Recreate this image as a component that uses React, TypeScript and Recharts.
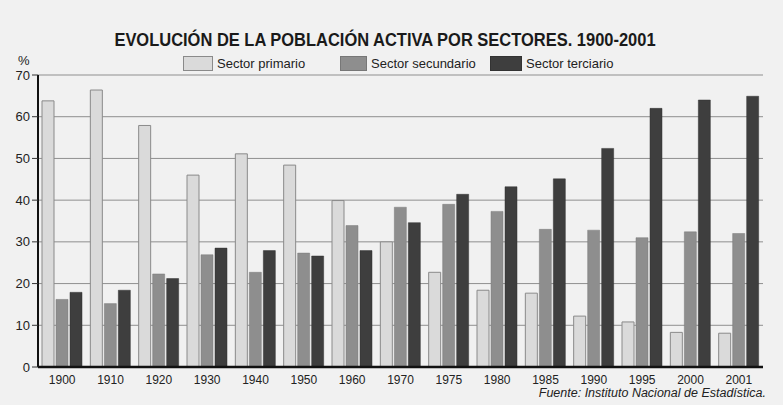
import React from "react";
import { BarChart, Bar, XAxis, YAxis, CartesianGrid } from "recharts";

const years = ["1900", "1910", "1920", "1930", "1940", "1950", "1960", "1970", "1975", "1980", "1985", "1990", "1995", "2000", "2001"];
const primario = [63.8, 66.4, 57.9, 46.0, 51.1, 48.4, 39.9, 30.0, 22.7, 18.4, 17.7, 12.2, 10.8, 8.3, 8.1];
const secundario = [16.2, 15.2, 22.3, 26.9, 22.7, 27.3, 33.9, 38.3, 39.0, 37.3, 33.0, 32.8, 31.0, 32.4, 32.0];
const terciario = [17.9, 18.4, 21.2, 28.5, 27.9, 26.6, 27.9, 34.6, 41.4, 43.2, 45.1, 52.4, 62.0, 64.0, 64.9];
const yTicks = [0, 10, 20, 30, 40, 50, 60, 70];

const data = years.map((year, i) => ({
  year,
  primario: primario[i],
  secundario: secundario[i],
  terciario: terciario[i],
}));

const FONT = "'Liberation Sans Narrow', 'Liberation Sans', Arial, sans-serif";

const legendItems = [
  { label: "Sector primario", fill: "#dadada", stroke: "#8a8a8a", left: 183, w: 28 },
  { label: "Sector secundario", fill: "#8e8e8e", stroke: "#777", left: 340, w: 25 },
  { label: "Sector terciario", fill: "#3e3e3e", stroke: "#333", left: 490, w: 30 },
];

const App = () => {
  return (
    <div
      style={{
        position: "absolute",
        left: 0,
        top: 0,
        width: 783,
        height: 405,
        background: "#f1f1f1",
        fontFamily: FONT,
        color: "#222",
        overflow: "hidden",
      }}
    >
      <div
        style={{
          position: "absolute",
          top: 30,
          left: 0,
          width: 770,
          textAlign: "center",
          fontWeight: "bold",
          fontSize: 18,
          color: "#1a1a1a",
          transform: "scaleX(0.915)",
          transformOrigin: "385px 0",
        }}
      >
        EVOLUCIÓN DE LA POBLACIÓN ACTIVA POR SECTORES. 1900-2001
      </div>
      {legendItems.map((it) => (
        <div key={it.label} style={{ position: "absolute", top: 56, left: it.left, display: "flex", alignItems: "center" }}>
          <div style={{ width: it.w, height: 13, background: it.fill, border: `1px solid ${it.stroke}` }} />
          <span style={{ marginLeft: 4, fontSize: 13 }}>{it.label}</span>
        </div>
      ))}
      <div style={{ position: "absolute", top: 53, left: 18, fontSize: 13 }}>%</div>
      <div
        style={{
          position: "absolute",
          top: 386,
          right: 17,
          fontSize: 12.5,
          fontStyle: "italic",
        }}
      >
        Fuente: Instituto Nacional de Estadística.
      </div>
      <BarChart
        width={783}
        height={405}
        data={data}
        margin={{ top: 75, right: 20, left: 0, bottom: 8 }}
        barCategoryGap={4}
        barGap={2}
        style={{ position: "absolute", left: 0, top: 0 }}
      >
        <CartesianGrid vertical={false} stroke="#8f8f8f" strokeWidth={1} />
        <XAxis
          dataKey="year"
          height={30}
          tickLine={false}
          axisLine={{ stroke: "#111", strokeWidth: 2.5 }}
          tick={{ fill: "#222", fontSize: 12, fontFamily: FONT }}
          interval={0}
        />
        <YAxis
          width={38}
          domain={[0, 70]}
          ticks={yTicks}
          axisLine={{ stroke: "#111", strokeWidth: 2 }}
          tickLine={{ stroke: "#333" }}
          tick={{ fill: "#222", fontSize: 13, fontFamily: FONT }}
        />
        <Bar dataKey="primario" fill="#dadada" stroke="#8a8a8a" strokeWidth={1} isAnimationActive={false} />
        <Bar dataKey="secundario" fill="#8e8e8e" stroke="#7a7a7a" strokeWidth={0.5} isAnimationActive={false} />
        <Bar dataKey="terciario" fill="#3e3e3e" stroke="#333" strokeWidth={0.5} isAnimationActive={false} />
      </BarChart>
    </div>
  );
};

export default App;
